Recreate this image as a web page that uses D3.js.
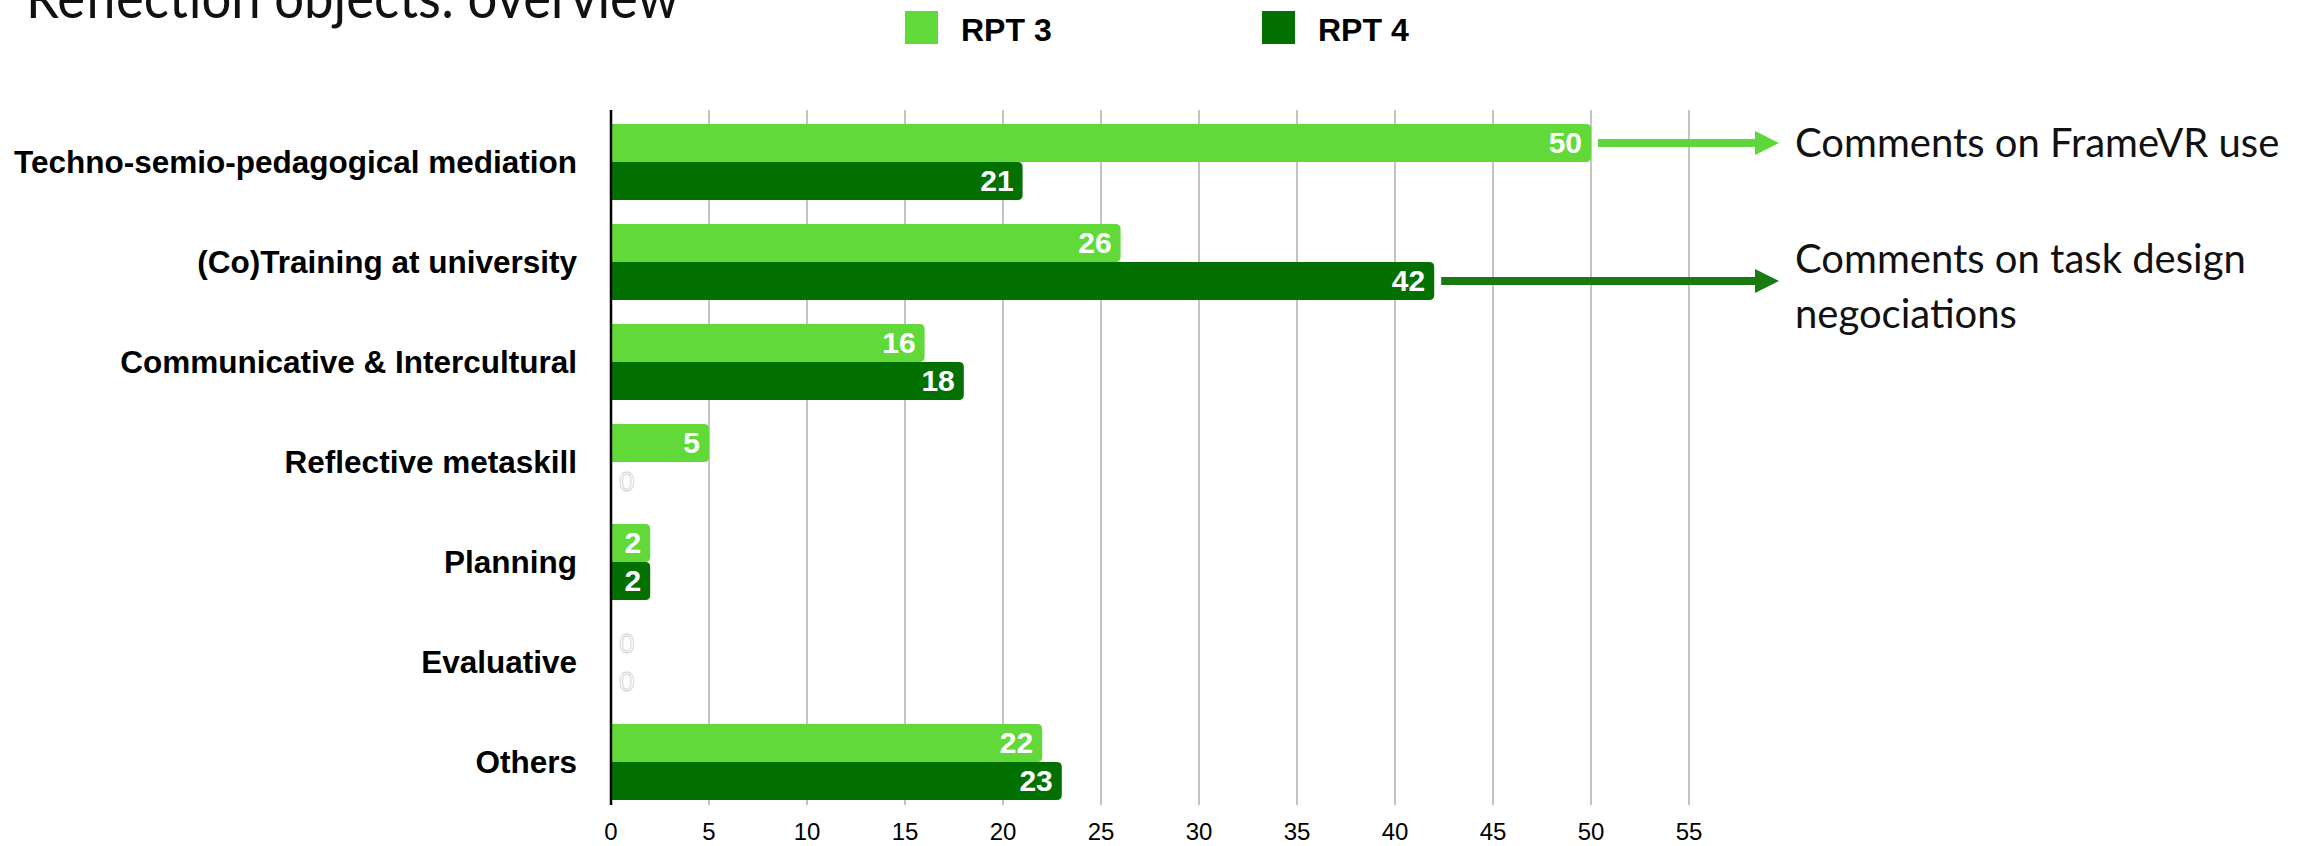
<!DOCTYPE html>
<html lang="en">
<head>
<meta charset="utf-8">
<title>Reflection objects: overview</title>
<script src="https://cdn.jsdelivr.net/npm/d3@7"></script>
<style>
    body { margin: 0; background: #fff; }
    svg { display: block; }
</style>
</head>
<body>
<div id="container"></div>
<script>
    // chart data
    var categories = ["Techno-semio-pedagogical mediation", "(Co)Training at university",
        "Communicative & Intercultural", "Reflective metaskill", "Planning", "Evaluative", "Others"];
    var seriesNames = ["RPT 3", "RPT 4"];
    var rpt3 = [50, 26, 16, 5, 2, 0, 22];
    var rpt4 = [21, 42, 18, 0, 2, 0, 23];
    var xTicks = [0, 5, 10, 15, 20, 25, 30, 35, 40, 45, 50, 55];
    var notes = [
        { cat: 0, series: "RPT 3", lines: ["Comments on FrameVR use"] },
        { cat: 1, series: "RPT 4", lines: ["Comments on task design", "negociations"] }
    ];

    var width = 2303, height = 846;
    var colors = { "RPT 3": "#61da39", "RPT 4": "#037002" };
    var arrowColors = { "RPT 3": "#5fd63b", "RPT 4": "#187a10" };

    var svg = d3.select("#container").append("svg")
        .attr("width", width)
        .attr("height", height);

    var x = d3.scaleLinear().domain([0, 55]).range([611, 1689]);
    var y = d3.scaleBand().domain(categories).range([112, 812])
        .paddingInner(0.24).paddingOuter(0.12);
    var ySub = d3.scaleBand().domain(seriesNames).range([0, y.bandwidth()]);

    var gridTop = 110, gridBottom = 805;

    // title (cut at the top in the original slide)
    svg.append("text")
        .attr("x", 26).attr("y", 18)
        .attr("textLength", 653)
        .attr("lengthAdjust", "spacingAndGlyphs")
        .style("font-family", "Lato, 'Open Sans', sans-serif")
        .style("font-size", "58px")
        .attr("fill", "#111")
        .text("Reflection objects: overview");

    // legend
    var legend = svg.append("g");
    var legendX = [905, 1262];
    seriesNames.forEach(function(s, i) {
        legend.append("rect")
            .attr("x", legendX[i]).attr("y", 11)
            .attr("width", 33).attr("height", 33)
            .attr("fill", colors[s]);
        legend.append("text")
            .attr("x", legendX[i] + 56).attr("y", 41)
            .style("font-family", "'Liberation Sans', Arial, sans-serif")
            .style("font-weight", "bold")
            .style("font-size", "32px")
            .text(s);
    });

    // grid lines
    svg.append("g").selectAll("line")
        .data(xTicks.filter(function(d) { return d > 0; }))
        .enter().append("line")
        .attr("x1", function(d) { return x(d); })
        .attr("x2", function(d) { return x(d); })
        .attr("y1", gridTop).attr("y2", gridBottom)
        .attr("stroke", "#b0b0b0")
        .attr("stroke-width", 1.5);

    // tick labels
    svg.append("g").selectAll("text")
        .data(xTicks)
        .enter().append("text")
        .attr("x", function(d) { return x(d); })
        .attr("y", 840)
        .attr("text-anchor", "middle")
        .style("font-family", "'Liberation Sans', Arial, sans-serif")
        .style("font-size", "24px")
        .text(function(d) { return d; });

    // category labels
    svg.append("g").selectAll("text")
        .data(categories)
        .enter().append("text")
        .attr("x", 577)
        .attr("y", function(d) { return y(d) + y.bandwidth() / 2 + 11; })
        .attr("text-anchor", "end")
        .style("font-family", "'Liberation Sans', Arial, sans-serif")
        .style("font-weight", "bold")
        .style("font-size", "31.5px")
        .text(function(d) { return d; });

    // bars
    var rows = [];
    categories.forEach(function(c, i) {
        rows.push({ cat: c, series: "RPT 3", value: rpt3[i] });
        rows.push({ cat: c, series: "RPT 4", value: rpt4[i] });
    });

    function barPath(x0, y0, w, h, r) {
        r = Math.min(r, w);
        return "M" + x0 + "," + y0 +
            " H" + (x0 + w - r) +
            " Q" + (x0 + w) + "," + y0 + " " + (x0 + w) + "," + (y0 + r) +
            " V" + (y0 + h - r) +
            " Q" + (x0 + w) + "," + (y0 + h) + " " + (x0 + w - r) + "," + (y0 + h) +
            " H" + x0 + " Z";
    }

    var bars = svg.append("g");
    bars.selectAll("path")
        .data(rows.filter(function(d) { return d.value > 0; }))
        .enter().append("path")
        .attr("d", function(d) {
            return barPath(x(0), y(d.cat) + ySub(d.series), x(d.value) - x(0), ySub.bandwidth(), 5);
        })
        .attr("fill", function(d) { return colors[d.series]; });

    // value labels
    bars.selectAll("text")
        .data(rows)
        .enter().append("text")
        .attr("x", function(d) { return d.value > 0 ? x(d.value) - 9 : x(0) + 8; })
        .attr("y", function(d) { return y(d.cat) + ySub(d.series) + ySub.bandwidth() / 2 + 10; })
        .attr("text-anchor", function(d) { return d.value > 0 ? "end" : "start"; })
        .style("font-family", "'Liberation Sans', Arial, sans-serif")
        .style("font-weight", function(d) { return d.value > 0 ? "bold" : "normal"; })
        .style("font-size", function(d) { return d.value > 0 ? "30px" : "28px"; })
        .attr("fill", "#fff")
        .attr("stroke", function(d) { return d.value > 0 ? "none" : "#cfcfcf"; })
        .attr("stroke-width", 0.8)
        .text(function(d) { return d.value; });

    // axis line
    svg.append("line")
        .attr("x1", x(0)).attr("x2", x(0))
        .attr("y1", gridTop).attr("y2", gridBottom)
        .attr("stroke", "#000")
        .attr("stroke-width", 2.5);

    // annotations with arrows
    var arrowEnd = 1779, headLen = 24, headHalf = 12;
    notes.forEach(function(n) {
        var v = n.series === "RPT 3" ? rpt3[n.cat] : rpt4[n.cat];
        var cy = y(categories[n.cat]) + ySub(n.series) + ySub.bandwidth() / 2;
        svg.append("line")
            .attr("x1", x(v) + 7).attr("x2", arrowEnd - headLen + 1)
            .attr("y1", cy).attr("y2", cy)
            .attr("stroke", arrowColors[n.series])
            .attr("stroke-width", 8);
        svg.append("path")
            .attr("d", "M" + (arrowEnd - headLen) + "," + (cy - headHalf) +
                " L" + arrowEnd + "," + cy +
                " L" + (arrowEnd - headLen) + "," + (cy + headHalf) + " Z")
            .attr("fill", arrowColors[n.series]);
        var t = svg.append("text")
            .attr("x", 1795)
            .attr("y", cy + 14 - (n.lines.length - 1) * 22)
            .style("font-family", "Lato, 'Open Sans', sans-serif")
            .style("font-size", "40px")
            .attr("fill", "#111");
        n.lines.forEach(function(line, j) {
            t.append("tspan")
                .attr("x", 1795)
                .attr("dy", j === 0 ? 0 : 55)
                .text(line);
        });
    });
</script>
</body>
</html>
